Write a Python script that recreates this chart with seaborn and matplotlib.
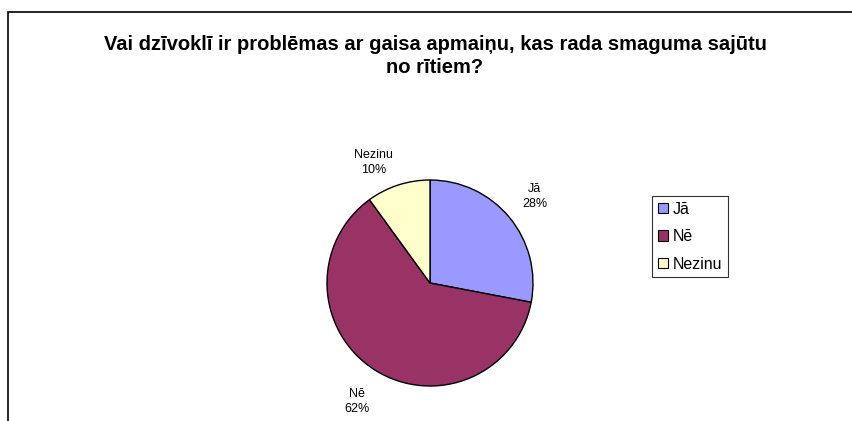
import matplotlib
matplotlib.use("Agg")
import matplotlib.pyplot as plt
import seaborn as sns
from matplotlib.patches import Rectangle, Patch

sns.set_theme(style="white")
plt.rcParams['font.family'] = ['Liberation Sans', 'DejaVu Sans']
plt.rcParams['text.color'] = 'black'

labels = ["Jā", "Nē", "Nezinu"]
shares = [28, 62, 10]
colors = ["#9999FF", "#993366", "#FFFFCC"]
title = "Vai dzīvoklī ir problēmas ar gaisa apmaiņu, kas rada smaguma sajūtu\nno rītiem?"

fig = plt.figure(figsize=(8.53, 4.21), dpi=100)

# outer frame like the spreadsheet chart area
fig.patches.append(Rectangle((8 / 853, -0.1), 1.2, (421 - 12) / 421 + 0.1,
                             transform=fig.transFigure, fill=False,
                             edgecolor="black", linewidth=1.2))

fig.text(435 / 853, 1 - 56 / 421, title, ha="center", va="center",
         fontsize=14.5, fontweight="bold", linespacing=1.25, color="black")

side = 2.5 * 103
ax = fig.add_axes([(430 - side / 2) / 853, (138 - side / 2) / 421, side / 853, side / 421])
texts = [f"{l}\n{s}%" for l, s in zip(labels, shares)]
wedges, txt = ax.pie(shares, colors=colors, startangle=90, counterclock=False,
                     labels=texts, labeldistance=1.32,
                     wedgeprops=dict(edgecolor="black", linewidth=1.0),
                     textprops=dict(fontsize=9, ha="center", va="center",
                                    linespacing=1.35, color="black"))
# Excel nudges the small slice label to the left
x, y = txt[2].get_position()
txt[2].set_position((x * 1.35, y * 0.93))
x, y = txt[1].get_position()
txt[1].set_position((x, y * 1.03))
ax.set_aspect("equal")

handles = [Patch(facecolor=c, edgecolor="black", linewidth=0.8) for c in colors]
leg = fig.legend(handles, labels, loc="upper left",
                 bbox_to_anchor=(652 / 853, 1 - 196 / 421),
                 fontsize=11.5, frameon=True, fancybox=False, borderpad=0.35,
                 handlelength=0.65, handleheight=0.65, handletextpad=0.3,
                 labelspacing=0.78, borderaxespad=0)
leg.get_frame().set_edgecolor("black")
leg.get_frame().set_linewidth(0.8)

fig.savefig("out.png", dpi=100)
